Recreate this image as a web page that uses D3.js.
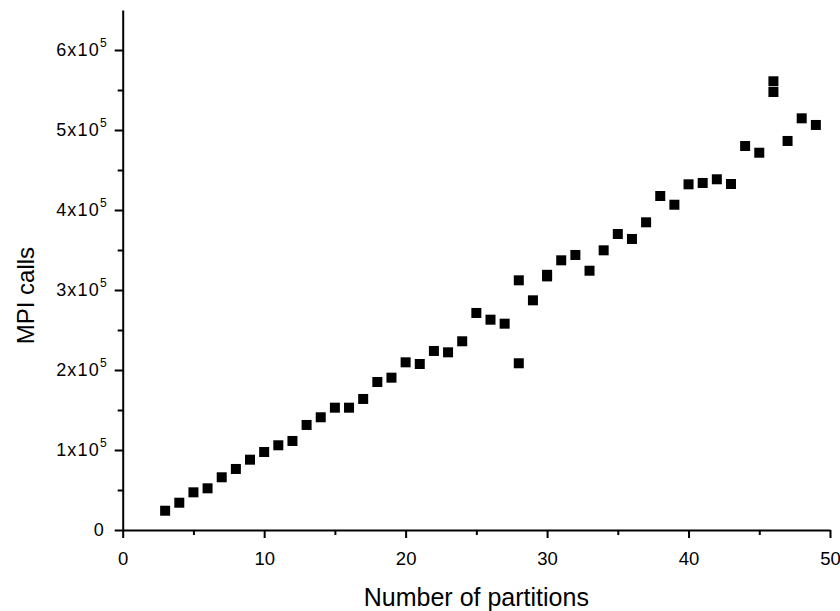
<!DOCTYPE html>
<html>
<head>
<meta charset="utf-8">
<script src="https://cdn.jsdelivr.net/npm/d3@7"></script>
<style>
  html, body { margin: 0; padding: 0; background: #fff; }
  svg { display: block; }
  text { font-family: "Liberation Sans", Arial, sans-serif; fill: #000; }
</style>
</head>
<body>
<svg id="chart" width="840" height="611"></svg>
<script>
// ---- data ----
const partitions = [3,4,5,6,7,8,9,10,11,12,13,14,15,16,17,18,19,20,21,22,23,24,25,26,27,28,28,29,30,30,31,32,33,34,35,36,37,38,39,40,41,42,43,44,45,46,46,47,48,49];
const mpiCalls = [24100,34100,47100,52100,65900,76300,87900,97500,105900,111300,131300,140900,152900,152900,163800,185000,190400,209600,207500,223800,222100,235900,271300,262900,257900,312100,208400,287100,319000,317000,337100,343800,324100,349600,370000,363800,384600,417500,406600,432100,433800,438400,432500,480000,471600,560900,547500,486300,514600,506300];
const xTicks = [0,10,20,30,40,50];
const xMinorTicks = [5,15,25,35,45];
const yTickMantissa = [0,1,2,3,4,5,6];
const yMinorTicks = [50000,150000,250000,350000,450000,550000];
const xTitle = "Number of partitions";
const yTitle = "MPI calls";

const svg = d3.select("#chart");
const x = d3.scaleLinear().domain([0, 50]).range([122.7, 830]);
const y = d3.scaleLinear().domain([0, 650000]).range([530, 10]);

// major / minor ticks via axes
const xAxis = svg.append("g").attr("transform", `translate(0,${y(0)})`)
  .call(d3.axisBottom(x).tickValues(xTicks).tickSize(8).tickSizeOuter(0).tickFormat(d3.format("d")));
const xMinor = svg.append("g").attr("transform", `translate(0,${y(0)})`)
  .call(d3.axisBottom(x).tickValues(xMinorTicks).tickSize(5).tickSizeOuter(0).tickFormat(""));
const yAxis = svg.append("g").attr("transform", `translate(${x(0)},0)`)
  .call(d3.axisLeft(y).tickValues(yTickMantissa.map(m => m * 100000)).tickSize(8).tickSizeOuter(0).tickFormat(""));
const yMinor = svg.append("g").attr("transform", `translate(${x(0)},0)`)
  .call(d3.axisLeft(y).tickValues(yMinorTicks).tickSize(5).tickSizeOuter(0).tickFormat(""));

[xAxis, xMinor, yAxis, yMinor].forEach(g => {
  g.selectAll(".domain").attr("stroke", "#000").attr("stroke-width", 2);
  g.selectAll(".tick line").attr("stroke", "#000").attr("stroke-width", 2);
});
xMinor.select(".domain").remove();
yMinor.select(".domain").remove();

xAxis.selectAll(".tick text")
  .attr("font-size", 18.5).attr("y", 35).attr("dy", null)
  .attr("fill", "#000")
  .style("font-family", "Liberation Sans, Arial, sans-serif");

// y tick labels with superscript
const yLab = svg.append("g");
yTickMantissa.forEach(m => {
  const t = yLab.append("text")
    .attr("x", x(0) - 16)
    .attr("y", y(m * 100000))
    .attr("dy", "0.36em")
    .attr("text-anchor", "end")
    .attr("font-size", 18);
  if (m === 0) {
    t.attr("x", x(0) - 19).text("0");
  } else {
    t.append("tspan").attr("letter-spacing", 1.2).text(m + "x10");
    t.append("tspan").attr("font-size", 12).attr("dy", "-0.75em").text("5");
  }
});

// points
svg.append("g").selectAll("rect")
  .data(partitions.map((p, i) => [p, mpiCalls[i]]))
  .join("rect")
  .attr("x", d => x(d[0]) - 5)
  .attr("y", d => y(d[1]) - 5)
  .attr("width", 10)
  .attr("height", 10)
  .attr("fill", "#000");

// titles
svg.append("text")
  .attr("x", (x(0) + x(50)) / 2)
  .attr("y", 606)
  .attr("text-anchor", "middle")
  .attr("font-size", 25)
  .text(xTitle);
svg.append("text")
  .attr("transform", `translate(34,${y(293000)}) rotate(-90)`)
  .attr("text-anchor", "middle")
  .attr("font-size", 24)
  .text(yTitle);
</script>
</body>
</html>
